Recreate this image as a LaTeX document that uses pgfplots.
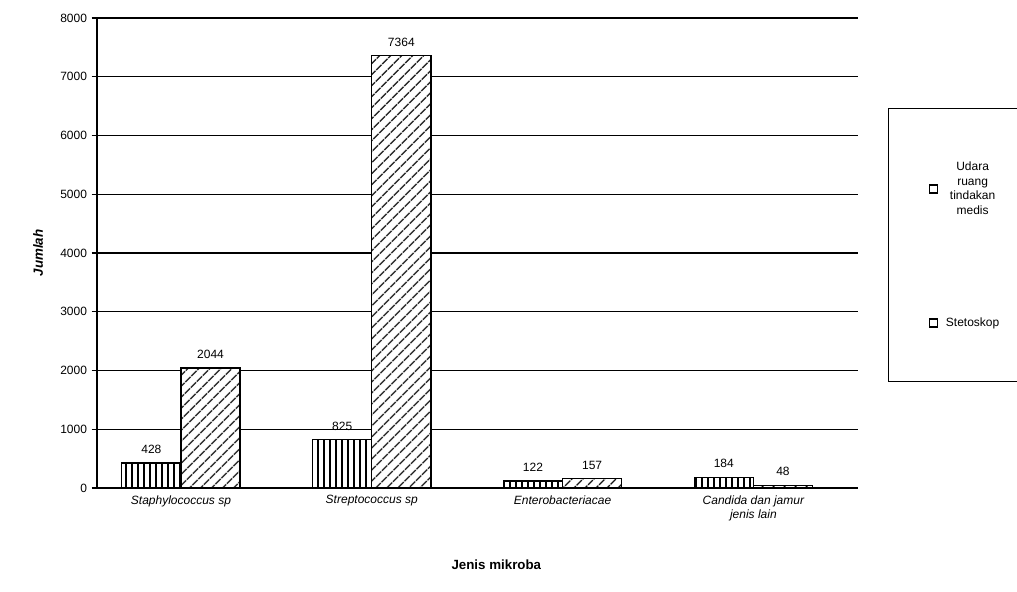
\documentclass[border=0pt]{standalone}
\usepackage{pgfplots}
\pgfplotsset{compat=1.18}
\usepackage{fontspec}
\setmainfont{Liberation Sans}
\usetikzlibrary{patterns.meta}
\begin{document}
\begin{tikzpicture}
\path[use as bounding box] (-72.75pt,-78pt) rectangle (690pt,366pt);
\begin{axis}[
  at={(0,0)}, anchor=south west,
  scale only axis,
  width=571pt, height=352.5pt,
  ybar=0pt, bar width=0.31,
  xmin=-0.44, xmax=3.55,
  ymin=0, ymax=8000,
  ytick={0,1000,...,8000},
  xtick={0,1,2,3},
  xticklabels={Staphylococcus sp,Streptococcus sp,Enterobacteriacae,{Candida dan jamur\\jenis lain}},
  xticklabel style={font=\itshape\small, align=center, yshift=2pt},
  yticklabel style={font=\small},
  /pgf/number format/assume math mode=true,
  /pgf/number format/1000 sep={},
  axis lines=left,
  axis line style={-, line width=1pt},
  x axis line style={draw=none},
  ymajorgrids, grid style={black, line width=0.9pt},
  ytick style={black, line width=0.8pt},
  tick align=outside,
  major tick length=4pt,
  xtick style={draw=none},
  ylabel={\bfseries\itshape Jumlah},
  ylabel style={font=\normalsize, yshift=6pt},
  xlabel={\bfseries Jenis mikroba},
  xlabel style={yshift=-22pt, xshift=14pt},
  nodes near coords,
  nodes near coords style={font=\small, black, yshift=3pt},
  legend style={at={(1.039,0.809)}, anchor=north west, draw=black, line width=0.9pt,
    inner xsep=30pt, inner ysep=38pt, row sep=72pt, font=\small,
    cells={align=center}, column sep=4pt},
  legend cell align=center,
  clip=false,
]
\addplot[draw=black, line width=1pt, fill=white,
  postaction={pattern={Lines[angle=90, distance=4.5pt, line width=1.1pt]}},
  legend image code/.code={\path[draw=black, line width=1pt, fill=white, postaction={}] (0pt,-3pt) rectangle (6pt,3pt);}]
  coordinates {(0,428) (1,825) (2,122) (3,184)};
\addlegendentry{Udara\\ruang\\tindakan\\medis}
\addplot[draw=black, line width=1pt, fill=white,
  postaction={pattern={Lines[angle=45, distance=6.5pt, line width=1.1pt]}},
  legend image code/.code={\path[draw=black, line width=1pt, fill=white, postaction={}] (0pt,-3pt) rectangle (6pt,3pt);}]
  coordinates {(0,2044) (1,7364) (2,157) (3,48)};
\addlegendentry{Stetoskop}
\draw[line width=1pt] (axis cs:-0.44,0) -- (axis cs:3.55,0);
\end{axis}
\end{tikzpicture}
\end{document}
